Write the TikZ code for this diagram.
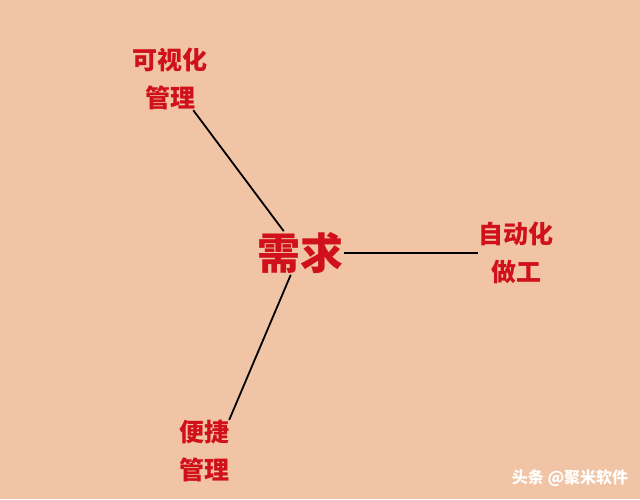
\documentclass[tikz,border=0pt]{standalone}
\usepackage{fontspec}
\usepackage{tikz}
\usetikzlibrary{positioning, calc}
\newfontfamily\cjk{Noto Sans CJK SC}
\definecolor{peach}{RGB}{240,196,164}
\definecolor{needred}{RGB}{208,16,26}
\tikzstyle{bigbox}=[rectangle,inner sep=1pt,text=needred,
font=\cjk\bfseries\fontsize{43}{43}\selectfont]
\tikzstyle{textbox}=[rectangle,inner sep=0pt,text=needred,align=center,
font=\cjk\bfseries\fontsize{25}{38}\selectfont]
\tikzstyle{markbox}=[rectangle,inner sep=0pt,text=white,
font=\cjk\bfseries\fontsize{16}{16}\selectfont]
\tikzstyle{edgepath} = [draw=black,line width=1.8pt]

\begin{document}
\begin{tikzpicture}[x=1pt,y=-1pt]
    \fill[peach] (0,0) rectangle (640,499);
    \useasboundingbox (0,0) rectangle (640,499);
    \node[bigbox] (need) at (300,253) {需求};
    \node[textbox] (vis) at (170,79) {可视化\\管理};
    \node[textbox] (auto) at (516,253) {自动化\\做工};
    \node[textbox] (easy) at (204,451) {便捷\\管理};
    \node[markbox] (mark) at (570,478) {头条 @聚米软件};

    \path[edgepath]
    (need) edge node {} (vis)
    (need) edge node {} (auto)
    (need) edge node {} (easy.north east);
\end{tikzpicture}
\end{document}
